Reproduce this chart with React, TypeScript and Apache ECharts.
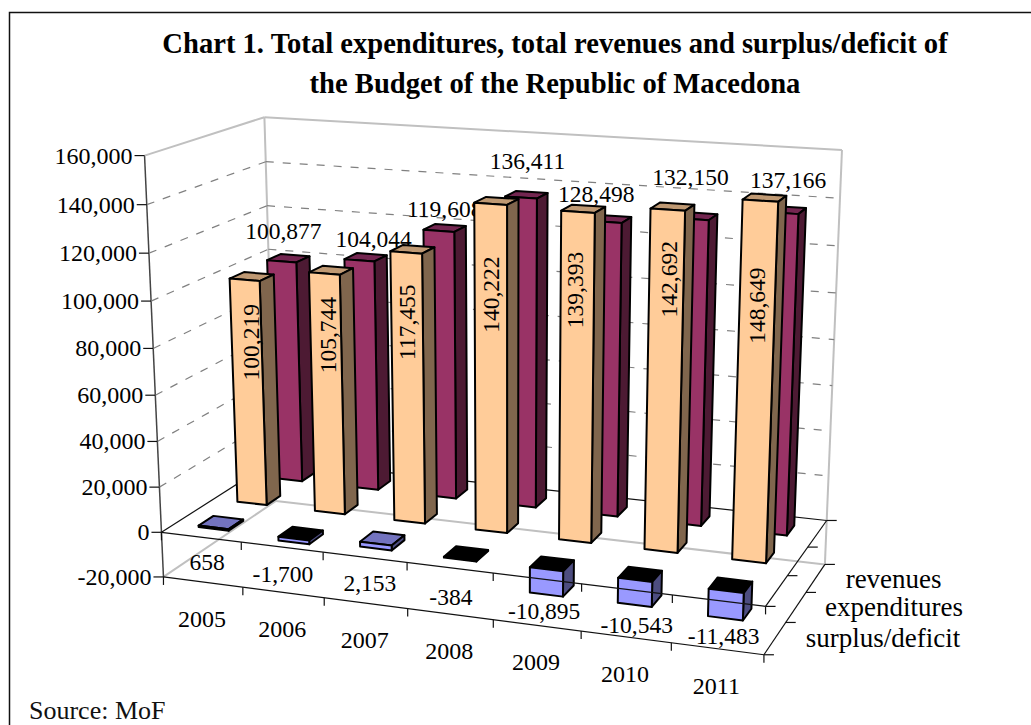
import React, { useEffect, useRef } from "react";
import * as echarts from "echarts";

const WIDTH = 1031;
const HEIGHT = 725;

// Budget figures, in millions of denars
const years = ["2005", "2006", "2007", "2008", "2009", "2010", "2011"];
const revenues = [100877, 104044, 119608, 136411, 128498, 132150, 137166];
const expenditures = [100219, 105744, 117455, 140222, 139393, 142692, 148649];
const surplusDeficit = [658, -1700, 2153, -384, -10895, -10543, -11483];
const depthNames = ["surplus/deficit", "expenditures", "revenues"];
const valueTicks = [-20000, 0, 20000, 40000, 60000, 80000, 100000, 120000, 140000, 160000];

const AXIS_MIN = -20000;
const AXIS_MAX = 160000;
const FONT = '"Liberation Serif", serif';
const TICK_FONT = `24px ${FONT}`;
const LABEL_FONT = `23.5px ${FONT}`;

// Bar proportions on the floor, as shares of one category and of the whole depth
const BAR_WIDTH = 0.38;
const BAR_DEPTH = 0.125;

// Anchor points of the 3D box: [across, depth, height] on the screen at [x, y]
const boxCorners: number[][] = [
  [0, 0, 0, 163, 578],
  [0, 0, 1 / 9, 162, 532],
  [0, 0, 6 / 9, 151, 301],
  [0, 0, 1, 145, 155],
  [1, 0, 0, 764, 655],
  [1, 0, 1 / 9, 765, 606],
  [1, 1, 0, 825, 564],
  [1, 1, 1 / 9, 827, 521],
  [1, 1, 1, 842, 150],
  [0, 1, 1, 264, 117],
  [0, 1, 8 / 9, 266, 162],
  [0, 1, 6 / 9, 268, 250],
  [0, 1, 0, 276, 500],
];

// Fine placement of the value labels around their bars, in pixels
const revenueLabelNudge = [[-5, -27], [8, -18], [0, -19], [1, -34], [-14, -25], [-6, -39], [3, -30]];
const expenditureLabelNudge = [[4, 3], [2, -2], [0, -2], [0, 3], [-2, -10], [3, -22], [0, 8]];
const surplusLabelNudge = [[6, 25], [1, 27], [5, 26], [1, 29], [7, 33], [10, 36], [5, 35]];
const depthLabelNudge = [[108, 0], [98, 0], [78, 1]];
const EXPENDITURE_LABEL_SHARE = 0.74;

// Least-squares fit of a projective camera through the anchor points
function fitCamera(points: number[][]): number[] {
  const rows: number[][] = [];
  const rhs: number[] = [];
  for (const [u, v, t, px, py] of points) {
    const x = px / 1000;
    const y = py / 1000;
    rows.push([u, v, t, 1, 0, 0, 0, 0, -x * u, -x * v, -x * t]);
    rhs.push(x);
    rows.push([0, 0, 0, 0, u, v, t, 1, -y * u, -y * v, -y * t]);
    rhs.push(y);
  }
  const n = 11;
  const m: number[][] = [];
  for (let i = 0; i < n; i++) {
    const line: number[] = [];
    for (let j = 0; j < n; j++) {
      let s = 0;
      rows.forEach((r) => (s += r[i] * r[j]));
      line.push(s);
    }
    let b = 0;
    rows.forEach((r, k) => (b += r[i] * rhs[k]));
    line.push(b);
    m.push(line);
  }
  for (let c = 0; c < n; c++) {
    let pivot = c;
    for (let r = c + 1; r < n; r++) if (Math.abs(m[r][c]) > Math.abs(m[pivot][c])) pivot = r;
    [m[c], m[pivot]] = [m[pivot], m[c]];
    for (let r = 0; r < n; r++) {
      if (r === c) continue;
      const f = m[r][c] / m[c][c];
      for (let k = c; k <= n; k++) m[r][k] -= f * m[c][k];
    }
  }
  return m.map((line, i) => line[n] / line[i]);
}

const cam = fitCamera(boxCorners);

function toScreen(u: number, v: number, t: number): number[] {
  const w = cam[8] * u + cam[9] * v + cam[10] * t + 1;
  return [
    (1000 * (cam[0] * u + cam[1] * v + cam[2] * t + cam[3])) / w,
    (1000 * (cam[4] * u + cam[5] * v + cam[6] * t + cam[7])) / w,
  ];
}

// Turns a category position, a depth share and a value into a screen point,
// reading the two flat scales through the hidden cartesian axes.
function projector(params: any, api: any) {
  const cs = params.coordSys;
  return (x: number, depth: number, value: number) => {
    const p = api.coord([x, value]);
    return toScreen((p[0] - cs.x) / cs.width, depth, 1 - (p[1] - cs.y) / cs.height);
  };
}

const seg = (a: number[], b: number[], stroke: string, lineWidth: number, lineDash?: number[]) => ({
  type: "line",
  shape: { x1: a[0], y1: a[1], x2: b[0], y2: b[1] },
  style: { stroke, lineWidth, lineDash, fill: null },
});

const label = (text: string, x: number, y: number, font = LABEL_FONT, align = "center", rotation = 0) => ({
  type: "text",
  x,
  y,
  rotation,
  style: { text, fill: "#000", font, textAlign: align, textVerticalAlign: "middle" },
});

const GREY = "#c0c0c0";
const DASH = "#808080";
const AXIS = "#111";

function renderWalls(params: any, api: any) {
  const at = projector(params, api);
  const value = api.value(1);
  const frontLeft = at(0, 0, value);
  const backLeft = at(0, 1, value);
  const backRight = at(7, 1, value);
  const children: any[] = [];
  if (value === AXIS_MIN || value === AXIS_MAX) {
    children.push(seg(frontLeft, backLeft, GREY, 2), seg(backLeft, backRight, GREY, 2));
  } else if (value === 0) {
    children.push(seg(frontLeft, backLeft, AXIS, 1.2), seg(backLeft, backRight, AXIS, 1.2));
  } else {
    children.push(seg(frontLeft, backLeft, DASH, 1.2, [8, 9]), seg(backLeft, backRight, DASH, 1.2, [8, 9]));
  }
  if (value === AXIS_MIN) {
    children.push(
      seg(at(0, 1, AXIS_MIN), at(0, 1, AXIS_MAX), GREY, 2),
      seg(at(7, 1, AXIS_MIN), at(7, 1, AXIS_MAX), GREY, 2),
      seg(at(0, 0, AXIS_MIN), at(0, 0, AXIS_MAX), "#444", 1.5)
    );
  }
  children.push(
    seg([frontLeft[0] - 10, frontLeft[1]], frontLeft, AXIS, 1.2),
    label(value.toLocaleString("en-US"), frontLeft[0] - 12, frontLeft[1], TICK_FONT, "right")
  );
  return { type: "group", children };
}

const FACES: Record<string, string[]> = {
  revenues: ["#993366", "#732650", "#4d1a33"],
  expenditures: ["#ffcc99", "#bf9973", "#80664d"],
  surplus: ["#9999ff", "#7373bf", "#4d4d80"],
};

function barFaces(at: any, x: number, row: number, value: number, colors: string[]) {
  const x0 = x - BAR_WIDTH / 2;
  const x1 = x + BAR_WIDTH / 2;
  const centre = (row + 0.5) / 3;
  const d0 = centre - BAR_DEPTH / 2;
  const d1 = centre + BAR_DEPTH / 2;
  const lo = Math.min(0, value);
  const hi = Math.max(0, value);
  const face = (pts: number[][], fill: string) => ({
    type: "polygon",
    shape: { points: pts },
    style: { fill, stroke: "#000", lineWidth: 2, lineJoin: "round" },
  });
  return [
    face([at(x0, d0, hi), at(x1, d0, hi), at(x1, d1, hi), at(x0, d1, hi)], value < 0 ? "#000" : colors[1]),
    face([at(x1, d0, lo), at(x1, d1, lo), at(x1, d1, hi), at(x1, d0, hi)], colors[2]),
    face([at(x0, d0, lo), at(x1, d0, lo), at(x1, d0, hi), at(x0, d0, hi)], colors[0]),
  ];
}

function renderRevenue(params: any, api: any) {
  const at = projector(params, api);
  const x = api.value(0);
  const value = api.value(1);
  const top = at(x, 5 / 6, value);
  const nudge = revenueLabelNudge[params.dataIndex];
  return {
    type: "group",
    children: [
      ...barFaces(at, x, 2, value, FACES.revenues),
      label(value.toLocaleString("en-US"), top[0] + nudge[0], top[1] + nudge[1]),
    ],
  };
}

function renderExpenditure(params: any, api: any) {
  const at = projector(params, api);
  const x = api.value(0);
  const value = api.value(1);
  const centre = 0.5 - BAR_DEPTH / 2;
  const p = at(x, centre, value * EXPENDITURE_LABEL_SHARE);
  const nudge = expenditureLabelNudge[params.dataIndex];
  return {
    type: "group",
    children: [
      ...barFaces(at, x, 1, value, FACES.expenditures),
      label(value.toLocaleString("en-US"), p[0] + nudge[0], p[1] + nudge[1], LABEL_FONT, "center", Math.PI / 2),
    ],
  };
}

function renderSurplus(params: any, api: any) {
  const at = projector(params, api);
  const x = api.value(0);
  const value = api.value(1);
  const p = at(x, 0, 0);
  const nudge = surplusLabelNudge[params.dataIndex];
  return {
    type: "group",
    children: [
      ...barFaces(at, x, 0, value, FACES.surplus),
      label(value.toLocaleString("en-US"), p[0] + nudge[0], p[1] + nudge[1]),
    ],
  };
}

// Front axis lines with their tick marks and the year labels
function renderFrontAxis(params: any, api: any) {
  const at = projector(params, api);
  const x = api.value(0);
  const children: any[] = [];
  const ticksAt = [x - 0.5];
  if (params.dataIndex === years.length - 1) ticksAt.push(x + 0.5);
  for (const level of [0, AXIS_MIN]) {
    if (params.dataIndex === 0) children.push(seg(at(0, 0, level), at(7, 0, level), AXIS, 1.2));
    for (const tx of ticksAt) {
      const p = at(tx, 0, level);
      children.push(seg(p, [p[0], p[1] + 8], AXIS, 1.2));
    }
  }
  const base = at(x, 0, AXIS_MIN);
  children.push(label(years[params.dataIndex], base[0] - 1, base[1] + 37, TICK_FONT));
  return { type: "group", children };
}

// Depth axis lines on the right side with their tick marks and the row names
function renderDepthAxis(params: any, api: any) {
  const at = projector(params, api);
  const row = params.dataIndex;
  const children: any[] = [];
  const ticksAt = [row / 3];
  if (row === depthNames.length - 1) ticksAt.push(1);
  for (const level of [0, AXIS_MIN]) {
    if (row === 0) children.push(seg(at(7, 0, level), at(7, 1, level), AXIS, 1.2));
    for (const d of ticksAt) {
      const p = at(7, d, level);
      children.push(seg(p, [p[0] + 10, p[1]], AXIS, 1.2));
    }
  }
  const base = at(7, (row + 0.5) / 3, AXIS_MIN);
  const nudge = depthLabelNudge[row];
  children.push(label(depthNames[row], base[0] + nudge[0], base[1] + nudge[1], `27px ${FONT}`));
  return { type: "group", children };
}

const custom = (name: string, renderItem: any, data: any[]) => ({
  type: "custom",
  name,
  coordinateSystem: "cartesian2d",
  renderItem,
  data,
  encode: { x: 0, y: 1 },
  silent: true,
  clip: false,
});

const barData = (values: number[]) => values.map((v, i) => [i + 0.5, v]);

export default function App() {
  const ref = useRef<HTMLDivElement>(null);
  useEffect(() => {
    const chart = echarts.init(ref.current, undefined, { renderer: "svg" });
    chart.setOption({
      animation: false,
      backgroundColor: "#fff",
      title: [
        {
          text: "Chart 1. Total expenditures, total revenues and surplus/deficit of",
          left: 550,
          top: 24,
          textAlign: "center",
          textStyle: { fontFamily: FONT, fontWeight: "bold", fontSize: 28.6, color: "#000" },
        },
        {
          text: "the Budget of the Republic of Macedona",
          left: 550,
          top: 64,
          textAlign: "center",
          textStyle: { fontFamily: FONT, fontWeight: "bold", fontSize: 28.6, color: "#000" },
        },
        {
          text: "Source: MoF",
          left: 24,
          top: 692,
          textStyle: { fontFamily: FONT, fontWeight: "normal", fontSize: 26, color: "#111" },
        },
      ],
      grid: { left: 0, top: 0, width: WIDTH, height: HEIGHT },
      xAxis: { type: "value", min: 0, max: years.length, show: false },
      yAxis: { type: "value", min: AXIS_MIN, max: AXIS_MAX, interval: 20000, show: false },
      graphic: [
        {
          type: "polyline",
          silent: true,
          shape: { points: [[9.5, HEIGHT], [9.5, 12.5], [WIDTH, 12.5]] },
          style: { stroke: "#111", lineWidth: 1.5, fill: null },
        },
      ],
      series: [
        custom("walls", renderWalls, valueTicks.map((v) => [0, v])),
        custom("revenues", renderRevenue, barData(revenues)),
        custom("expenditures", renderExpenditure, barData(expenditures)),
        custom("surplus/deficit", renderSurplus, barData(surplusDeficit)),
        custom("front axis", renderFrontAxis, years.map((_, i) => [i + 0.5, AXIS_MIN])),
        custom("depth axis", renderDepthAxis, depthNames.map(() => [years.length, AXIS_MIN])),
      ],
    });
    return () => chart.dispose();
  }, []);
  return <div ref={ref} style={{ position: "absolute", left: 0, top: 0, width: WIDTH, height: HEIGHT }} />;
}
